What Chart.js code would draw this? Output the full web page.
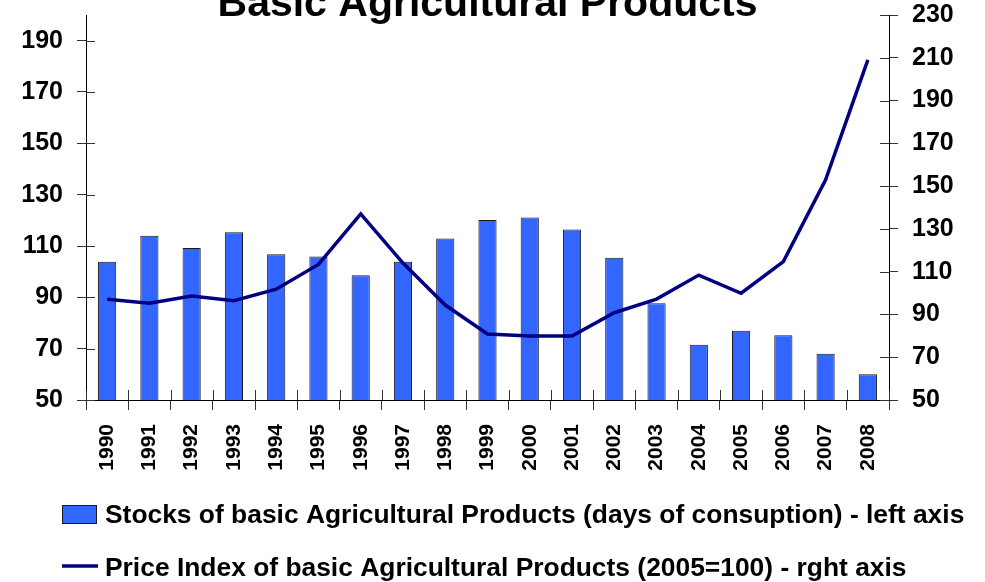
<!DOCTYPE html>
<html>
<head>
<meta charset="utf-8">
<script src="https://cdn.jsdelivr.net/npm/chart.js@4/dist/chart.umd.min.js"></script>
<style>
  html, body { margin: 0; padding: 0; background: #fff; }
  #wrap { width: 985px; height: 582px; }
</style>
</head>
<body>
<div id="wrap"><canvas id="grafico" width="985" height="582"></canvas></div>
<script>
const anios = ['1990', '1991', '1992', '1993', '1994', '1995', '1996', '1997', '1998', '1999',
  '2000', '2001', '2002', '2003', '2004', '2005', '2006', '2007', '2008'];
const existencias = [103.9, 114.0, 109.2, 115.4, 106.8, 105.9, 98.6, 103.9, 112.9, 120.1,
  121.1, 116.4, 105.4, 87.7, 71.5, 77.0, 75.2, 68.0, 60.0];
const indicePrecios = [97.1, 95.2, 98.6, 96.4, 101.8, 113.4, 137.0, 114.0, 94.4, 80.9,
  79.9, 79.9, 90.8, 97.2, 108.4, 99.9, 114.7, 152.9, 209.0];
const ticksIzq = [50, 70, 90, 110, 130, 150, 170, 190];
const ticksDer = [50, 70, 90, 110, 130, 150, 170, 190, 210, 230];

const titulo = 'Basic Agricultural Products';
const FUENTE = '"Liberation Sans", Arial, sans-serif';

// titulo cortado arriba, como en el original
const pluginTitulo = {
  id: 'pluginTitulo',
  afterDraw(chart) {
    const { ctx, chartArea } = chart;
    ctx.save();
    ctx.font = 'bold 41px ' + FUENTE;
    ctx.fillStyle = '#000';
    ctx.textAlign = 'center';
    ctx.textBaseline = 'alphabetic';
    ctx.fillText(titulo, (chartArea.left + chartArea.right) / 2, 16);
    ctx.restore();
  }
};

// la mitad interior de las marcas de los ejes
const marcasInternas = {
  id: 'marcasInternas',
  beforeDatasetsDraw(chart) {
    const { ctx, chartArea, scales } = chart;
    ctx.save();
    ctx.strokeStyle = '#333';
    ctx.lineWidth = 1;
    ctx.beginPath();
    scales.y.ticks.forEach(t => {
      const y = Math.round(scales.y.getPixelForValue(t.value)) + 0.5;
      ctx.moveTo(chartArea.left, y);
      ctx.lineTo(chartArea.left + 9, y);
    });
    scales.y1.ticks.forEach(t => {
      const y = Math.round(scales.y1.getPixelForValue(t.value)) + 0.5;
      ctx.moveTo(chartArea.right, y);
      ctx.lineTo(chartArea.right - 9, y);
    });
    for (let i = 0; i <= anios.length; i++) {
      const x = Math.round(scales.x.getPixelForValue(i - 0.5)) + 0.5;
      ctx.moveTo(x, chartArea.bottom);
      ctx.lineTo(x, chartArea.bottom - 10);
    }
    ctx.stroke();
    ctx.restore();
  }
};

// leyenda en dos filas alineada a la izquierda
const leyenda = {
  id: 'leyenda',
  afterDraw(chart) {
    const ctx = chart.ctx;
    const barras = chart.data.datasets[0];
    const linea = chart.data.datasets[1];
    ctx.save();
    ctx.font = 'bold 26.4px ' + FUENTE;
    ctx.fillStyle = '#000';
    ctx.textAlign = 'left';
    ctx.textBaseline = 'alphabetic';

    ctx.fillStyle = barras.backgroundColor;
    ctx.fillRect(62, 505, 35, 19);
    ctx.strokeStyle = barras.borderColor;
    ctx.lineWidth = 1;
    ctx.strokeRect(62.5, 505.5, 34, 18);
    ctx.fillStyle = '#000';
    ctx.fillText(barras.label, 105, 523);

    ctx.strokeStyle = linea.borderColor;
    ctx.lineWidth = 3.5;
    ctx.beginPath();
    ctx.moveTo(62, 566);
    ctx.lineTo(98, 566);
    ctx.stroke();
    ctx.fillText(linea.label, 105, 576);
    ctx.restore();
  }
};

const ajusteVertical = ancho => s => {
  s.width = ancho;
  s.paddingTop = 0;
  s.paddingBottom = 0;
};

const grafico = new Chart(document.getElementById('grafico'), {
  type: 'bar',
  data: {
    labels: anios,
    datasets: [{
      type: 'bar',
      label: 'Stocks of basic Agricultural Products (days of consuption) - left axis',
      data: existencias,
      yAxisID: 'y',
      backgroundColor: '#3366ff',
      borderColor: '#1a1a1a',
      borderWidth: 1,
      categoryPercentage: 1,
      barPercentage: 0.43,
      order: 2
    }, {
      type: 'line',
      label: 'Price Index of basic Agricultural Products (2005=100) - rght axis',
      data: indicePrecios,
      yAxisID: 'y1',
      borderColor: '#000080',
      backgroundColor: '#000080',
      borderWidth: 3.5,
      pointRadius: 0,
      tension: 0,
      fill: false,
      order: 1
    }]
  },
  options: {
    responsive: false,
    animation: false,
    layout: { padding: { left: 0, right: 0, top: 15, bottom: 102 } },
    plugins: {
      legend: { display: false },
      title: { display: false },
      tooltip: { enabled: false }
    },
    scales: {
      x: {
        afterFit: s => { s.height = 80; s.paddingLeft = 0; s.paddingRight = 0; },
        grid: { display: true, drawOnChartArea: false, tickLength: 10, color: '#333', offset: true },
        border: { display: true, color: '#000', width: 1 },
        ticks: {
          autoSkip: false, minRotation: 90, maxRotation: 90, padding: 14,
          color: '#000', font: { family: FUENTE, size: 21, weight: 'bold' }
        }
      },
      y: {
        position: 'left',
        min: 50,
        max: 200,
        afterFit: ajusteVertical(86),
        afterBuildTicks: s => { s.ticks = ticksIzq.map(v => ({ value: v })); },
        grid: { drawOnChartArea: false, tickLength: 9, color: '#333' },
        border: { display: true, color: '#000', width: 1 },
        ticks: { padding: 14, color: '#000', font: { family: FUENTE, size: 25, weight: 'bold' } }
      },
      y1: {
        position: 'right',
        min: 50,
        max: 230,
        afterFit: ajusteVertical(96),
        afterBuildTicks: s => { s.ticks = ticksDer.map(v => ({ value: v })); },
        grid: { drawOnChartArea: false, tickLength: 9, color: '#333' },
        border: { display: true, color: '#000', width: 1 },
        ticks: { padding: 14, color: '#000', font: { family: FUENTE, size: 25, weight: 'bold' } }
      }
    }
  },
  plugins: [pluginTitulo, marcasInternas, leyenda]
});
</script>
</body>
</html>
